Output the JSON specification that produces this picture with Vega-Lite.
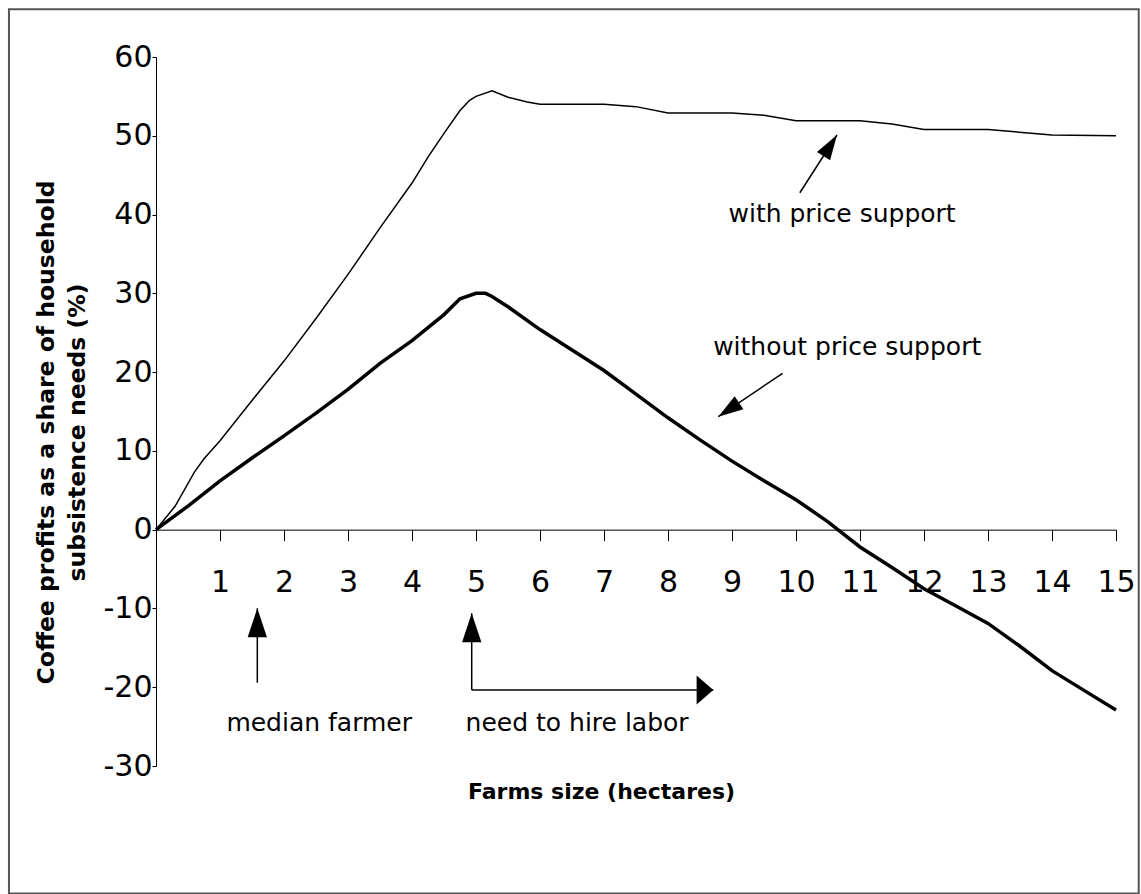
{
  "$schema": "https://vega.github.io/schema/vega-lite/v6.json",
  "width": 960,
  "height": 709,
  "autosize": {"type": "none"},
  "padding": {"left": 156, "top": 57, "right": 25, "bottom": 128},
  "background": "white",
  "config": {
    "view": {"stroke": null},
    "font": "DejaVu Sans",
    "text": {"font": "DejaVu Sans"}
  },
  "datasets": {
    "curves": [
      {"series": "with price support", "x": 0, "y": 0},
      {"series": "with price support", "x": 0.3, "y": 3},
      {"series": "with price support", "x": 0.6, "y": 7.3},
      {"series": "with price support", "x": 0.75, "y": 9},
      {"series": "with price support", "x": 1, "y": 11.3},
      {"series": "with price support", "x": 1.5, "y": 16.4},
      {"series": "with price support", "x": 2, "y": 21.4},
      {"series": "with price support", "x": 2.5, "y": 26.8},
      {"series": "with price support", "x": 3, "y": 32.4},
      {"series": "with price support", "x": 3.5, "y": 38.3},
      {"series": "with price support", "x": 4, "y": 44.0},
      {"series": "with price support", "x": 4.25, "y": 47.3},
      {"series": "with price support", "x": 4.5, "y": 50.3},
      {"series": "with price support", "x": 4.75, "y": 53.2},
      {"series": "with price support", "x": 4.9, "y": 54.5},
      {"series": "with price support", "x": 5, "y": 55.0},
      {"series": "with price support", "x": 5.25, "y": 55.7},
      {"series": "with price support", "x": 5.5, "y": 54.9},
      {"series": "with price support", "x": 5.8, "y": 54.3},
      {"series": "with price support", "x": 6, "y": 54.0},
      {"series": "with price support", "x": 7, "y": 54.0},
      {"series": "with price support", "x": 7.5, "y": 53.7},
      {"series": "with price support", "x": 8, "y": 52.9},
      {"series": "with price support", "x": 9, "y": 52.9},
      {"series": "with price support", "x": 9.5, "y": 52.6},
      {"series": "with price support", "x": 10, "y": 51.9},
      {"series": "with price support", "x": 11, "y": 51.9},
      {"series": "with price support", "x": 11.5, "y": 51.5},
      {"series": "with price support", "x": 12, "y": 50.8},
      {"series": "with price support", "x": 13, "y": 50.8},
      {"series": "with price support", "x": 14, "y": 50.1},
      {"series": "with price support", "x": 15, "y": 50.0},
      {"series": "without price support", "x": 0, "y": 0},
      {"series": "without price support", "x": 0.5, "y": 3.0},
      {"series": "without price support", "x": 1, "y": 6.2},
      {"series": "without price support", "x": 1.5, "y": 9.1},
      {"series": "without price support", "x": 2, "y": 11.9},
      {"series": "without price support", "x": 2.5, "y": 14.8},
      {"series": "without price support", "x": 3, "y": 17.8},
      {"series": "without price support", "x": 3.5, "y": 21.1},
      {"series": "without price support", "x": 4, "y": 24.0},
      {"series": "without price support", "x": 4.5, "y": 27.3},
      {"series": "without price support", "x": 4.75, "y": 29.3},
      {"series": "without price support", "x": 5, "y": 30.0},
      {"series": "without price support", "x": 5.15, "y": 30.0},
      {"series": "without price support", "x": 5.25, "y": 29.6},
      {"series": "without price support", "x": 5.5, "y": 28.3},
      {"series": "without price support", "x": 6, "y": 25.4},
      {"series": "without price support", "x": 6.5, "y": 22.8},
      {"series": "without price support", "x": 7, "y": 20.2},
      {"series": "without price support", "x": 7.5, "y": 17.2},
      {"series": "without price support", "x": 8, "y": 14.2},
      {"series": "without price support", "x": 8.5, "y": 11.4},
      {"series": "without price support", "x": 9, "y": 8.7},
      {"series": "without price support", "x": 9.5, "y": 6.2},
      {"series": "without price support", "x": 10, "y": 3.8},
      {"series": "without price support", "x": 10.5, "y": 1.0},
      {"series": "without price support", "x": 11, "y": -2.2},
      {"series": "without price support", "x": 11.5, "y": -4.8},
      {"series": "without price support", "x": 12, "y": -7.5},
      {"series": "without price support", "x": 12.5, "y": -9.7},
      {"series": "without price support", "x": 13, "y": -11.9},
      {"series": "without price support", "x": 13.5, "y": -14.8},
      {"series": "without price support", "x": 14, "y": -17.9},
      {"series": "without price support", "x": 14.5, "y": -20.4},
      {"series": "without price support", "x": 15, "y": -22.9}
    ],
    "frame": [{"x": -2.2975, "x2": 15.355, "y": -46.2, "y2": 66.06}],
    "notes": [
      {"label": "with price support", "x": 10.72, "y": 39.02},
      {"label": "without price support", "x": 10.8, "y": 22.17},
      {"label": "median farmer", "x": 2.55, "y": -25.52},
      {"label": "need to hire labor", "x": 6.58, "y": -25.52}
    ],
    "arrows": [
      {"name": "with", "x": 10.64, "y": 50.1, "x2": 10.06, "y2": 42.77},
      {"name": "without", "x": 8.786, "y": 14.34, "x2": 9.79, "y2": 19.85},
      {"name": "median", "x": 1.583, "y": -9.98, "x2": 1.583, "y2": -19.43},
      {"name": "labor-up", "x": 4.933, "y": -10.62, "x2": 4.933, "y2": -20.35},
      {"name": "labor-right", "x": 8.708, "y": -20.35, "x2": 4.933, "y2": -20.35}
    ]
  },
  "encoding": {
    "x": {
      "field": "x", "type": "quantitative",
      "scale": {"domain": [0, 15], "nice": false, "zero": false},
      "axis": {
        "orient": "bottom",
        "offset": -236.33,
        "values": [1, 2, 3, 4, 5, 6, 7, 8, 9, 10, 11, 12, 13, 14, 15],
        "grid": false,
        "domainColor": "black", "domainWidth": 1,
        "tickColor": "black", "tickSize": 11, "tickWidth": 1,
        "labelFont": "DejaVu Sans", "labelFontSize": 30, "labelColor": "black",
        "labelPadding": 27, "labelFlush": false, "labelOverlap": false,
        "title": "Farms size (hectares)",
        "titleFont": "DejaVu Sans", "titleFontSize": 22, "titleFontWeight": "bold", "titleColor": "black",
        "titleX": 445, "titleY": 269, "titleAlign": "center", "titleBaseline": "alphabetic"
      }
    },
    "y": {
      "field": "y", "type": "quantitative",
      "scale": {"domain": [-30, 60], "nice": false, "zero": false},
      "axis": {
        "orient": "left",
        "values": [-30, -20, -10, 0, 10, 20, 30, 40, 50, 60],
        "labelExpr": "datum.value < 0 ? '-' + abs(datum.value) : '' + datum.value",
        "grid": false,
        "domainColor": "black", "domainWidth": 1,
        "tickColor": "black", "tickSize": 4, "tickWidth": 1,
        "labelFont": "DejaVu Sans", "labelFontSize": 30, "labelColor": "black",
        "labelPadding": 0, "labelFlush": false, "labelOverlap": false,
        "title": ["Coffee profits as a share of household", "subsistence needs (%)"],
        "titleFont": "DejaVu Sans", "titleFontSize": 23.5, "titleFontWeight": "bold", "titleColor": "black",
        "titleAngle": -90, "titleX": -103, "titleY": 375, "titleAlign": "center",
        "titleBaseline": "alphabetic", "titleLineHeight": 31
      }
    }
  },
  "layer": [
    {
      "data": {"name": "frame"},
      "mark": {"type": "rect", "filled": false, "stroke": "#555555", "strokeWidth": 2, "fill": null},
      "encoding": {
        "x2": {"field": "x2"},
        "y2": {"field": "y2"}
      }
    },
    {
      "data": {"name": "curves"},
      "transform": [{"filter": "datum.series === 'with price support'"}],
      "mark": {"type": "line", "color": "black", "strokeWidth": 1.5}
    },
    {
      "data": {"name": "curves"},
      "transform": [{"filter": "datum.series === 'without price support'"}],
      "mark": {"type": "line", "color": "black", "strokeWidth": 3.5}
    },
    {
      "data": {"name": "arrows"},
      "mark": {"type": "rule", "color": "black", "strokeWidth": 1.5},
      "encoding": {
        "x2": {"field": "x2"},
        "y2": {"field": "y2"}
      }
    },
    {
      "data": {"name": "arrows"},
      "transform": [{"filter": "datum.name === 'median' || datum.name === 'labor-up'"}],
      "mark": {"type": "point", "shape": "M0,0L0.666,2L-0.666,2Z", "size": 841, "angle": 0, "filled": true, "color": "black", "opacity": 1, "strokeWidth": 0}
    },
    {
      "data": {"name": "arrows"},
      "transform": [{"filter": "datum.name === 'labor-right'"}],
      "mark": {"type": "point", "shape": "M0,0L1.74,2L-1.74,2Z", "size": 279, "angle": 90, "filled": true, "color": "black", "opacity": 1, "strokeWidth": 0}
    },
    {
      "data": {"name": "arrows"},
      "transform": [{"filter": "datum.name === 'with'"}],
      "mark": {"type": "point", "shape": "M0,0L0.625,2L-0.625,2Z", "size": 625, "angle": 32.5, "filled": true, "color": "black", "opacity": 1, "strokeWidth": 0}
    },
    {
      "data": {"name": "arrows"},
      "transform": [{"filter": "datum.name === 'without'"}],
      "mark": {"type": "point", "shape": "M0,0L0.625,2L-0.625,2Z", "size": 625, "angle": 236, "filled": true, "color": "black", "opacity": 1, "strokeWidth": 0}
    },
    {
      "data": {"name": "notes"},
      "mark": {"type": "text", "font": "DejaVu Sans", "fontSize": 25, "color": "black", "align": "center", "baseline": "alphabetic"},
      "encoding": {
        "text": {"field": "label"}
      }
    }
  ]
}
